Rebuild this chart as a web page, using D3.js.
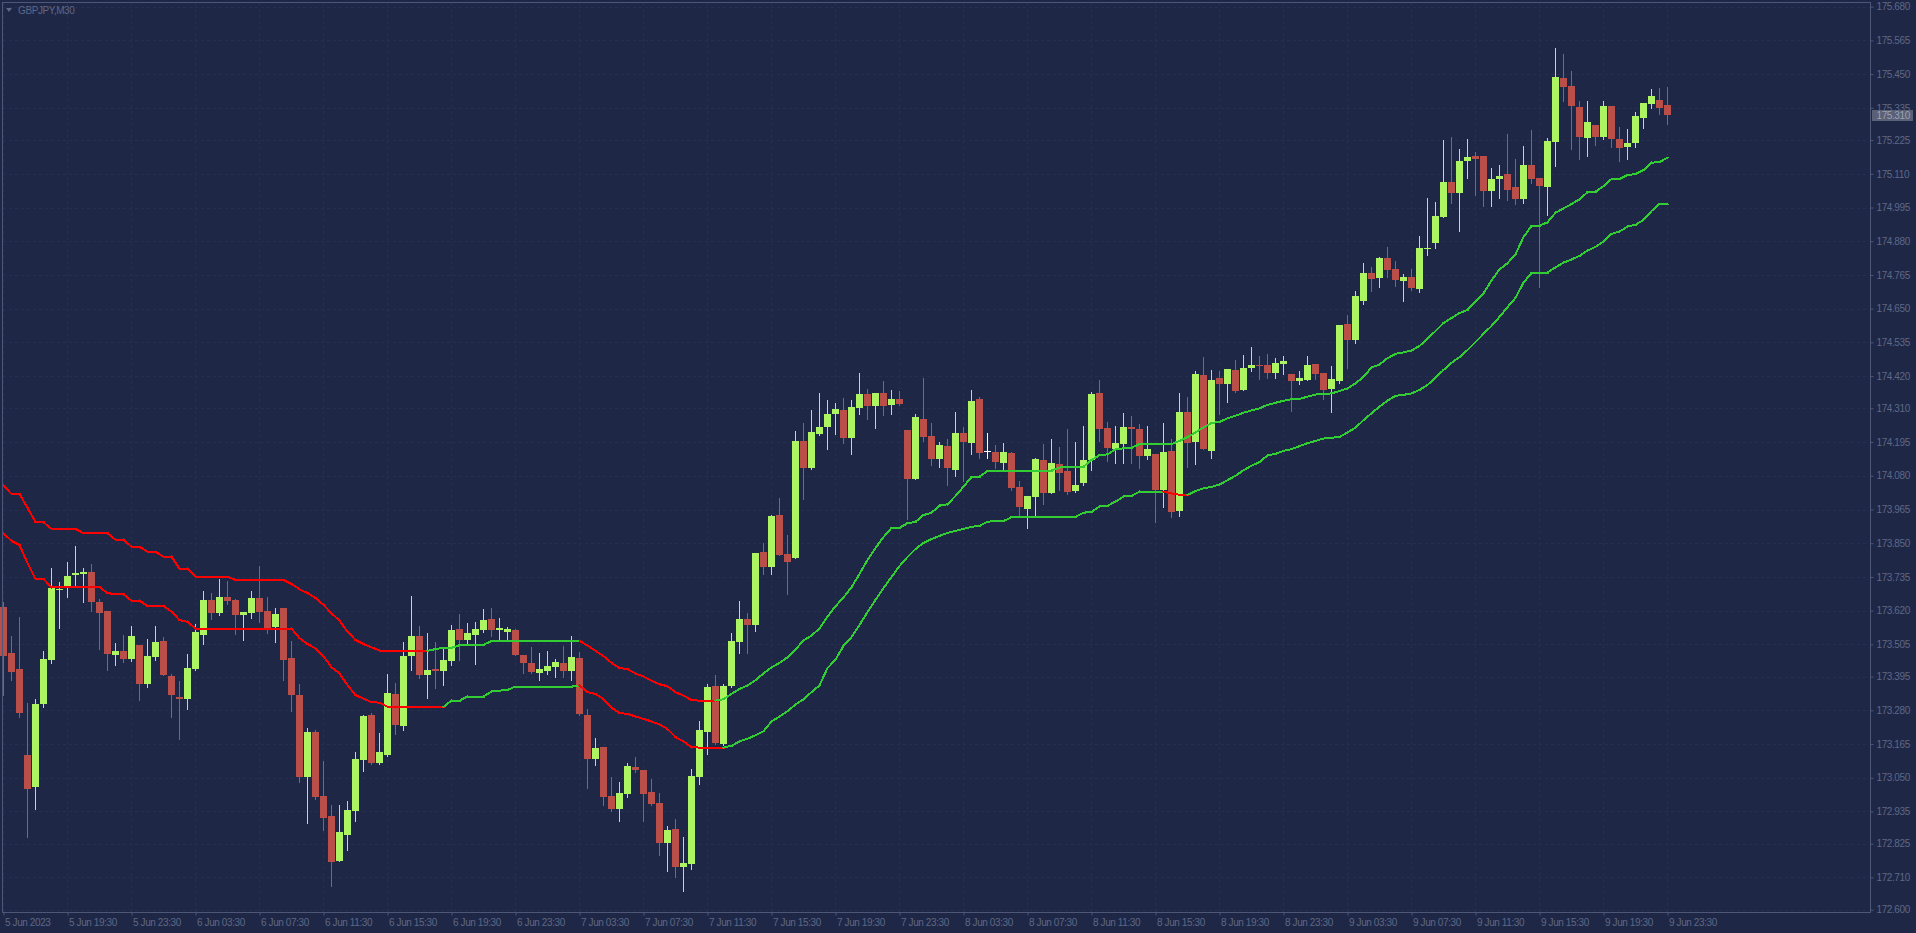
<!DOCTYPE html>
<html>
<head>
<meta charset="utf-8">
<script src="https://cdn.jsdelivr.net/npm/d3@7"></script>
<style>
  body { margin: 0; background: #1e2745; overflow: hidden; }
  svg text { font-family: "Liberation Sans", Arial, sans-serif; font-size: 10px; letter-spacing: -0.4px; }
</style>
</head>
<body>
<div id="chart"></div>
<script>
// GBPJPY M30, 5 Jun 15:30 .. 9 Jun 23:30 (209 bars)
var symbol = "GBPJPY,M30";
var lastPrice = 175.310;

var timeLabels = ["5 Jun 2023", "5 Jun 19:30", "5 Jun 23:30",
  "6 Jun 03:30", "6 Jun 07:30", "6 Jun 11:30", "6 Jun 15:30", "6 Jun 19:30", "6 Jun 23:30",
  "7 Jun 03:30", "7 Jun 07:30", "7 Jun 11:30", "7 Jun 15:30", "7 Jun 19:30", "7 Jun 23:30",
  "8 Jun 03:30", "8 Jun 07:30", "8 Jun 11:30", "8 Jun 15:30", "8 Jun 19:30", "8 Jun 23:30",
  "9 Jun 03:30", "9 Jun 07:30", "9 Jun 11:30", "9 Jun 15:30", "9 Jun 19:30", "9 Jun 23:30"];

var priceTicks = [175.680, 175.565, 175.450, 175.335, 175.225, 175.110, 174.995, 174.880,
  174.765, 174.650, 174.535, 174.420, 174.310, 174.195, 174.080, 173.965, 173.850, 173.735,
  173.620, 173.505, 173.395, 173.280, 173.165, 173.050, 172.935, 172.825, 172.710, 172.600];

var open = [173.633,173.476,173.421,173.128,173.017,173.303,173.450,173.689,173.702,173.740,
173.746,173.752,173.650,173.619,173.469,173.483,173.456,173.503,173.371,173.463,
173.517,173.398,173.326,173.320,173.422,173.538,173.657,173.613,173.667,173.657,
173.606,173.613,173.664,173.619,173.564,173.630,173.459,173.333,173.053,173.206,
172.989,172.921,172.767,172.855,172.938,173.111,173.264,173.101,173.128,173.336,
173.227,173.466,173.534,173.401,173.421,173.415,173.449,173.557,173.520,173.537,
173.554,173.591,173.554,173.547,173.554,173.469,173.442,173.408,173.415,173.428,
173.442,173.415,173.459,173.264,173.114,173.155,172.989,172.944,172.996,173.087,
173.077,173.003,172.965,172.828,172.875,172.744,172.757,173.053,173.206,173.363,
173.165,173.363,173.513,173.591,173.572,173.820,173.769,173.946,173.814,173.800,
174.199,174.106,174.222,174.246,174.290,174.305,174.210,174.312,174.359,174.318,
174.362,174.322,174.342,174.236,174.070,174.274,174.216,174.138,174.182,174.101,
174.226,174.193,174.342,174.164,174.161,174.125,174.158,174.042,173.968,174.009,
174.134,174.022,174.120,174.096,174.029,174.056,174.135,174.362,174.243,174.172,
174.190,174.246,174.240,174.149,174.154,174.032,174.164,173.961,174.298,174.196,
174.424,174.165,174.414,174.394,174.441,174.374,174.449,174.458,174.458,174.432,
174.462,174.427,174.404,174.408,174.461,174.431,174.377,174.404,174.598,174.544,
174.677,174.772,174.756,174.823,174.785,174.745,174.758,174.718,174.855,174.875,
174.964,175.082,175.046,175.155,175.172,175.172,175.052,175.093,175.109,175.065,
175.025,175.140,175.096,175.066,175.220,175.437,175.410,175.338,175.233,175.276,
175.237,175.341,175.229,175.202,175.216,175.301,175.349,175.362,175.345];

var high = [173.651,173.534,173.598,173.306,173.319,173.483,173.766,173.718,173.786,173.841,
173.766,173.779,173.660,173.619,173.510,173.537,173.568,173.503,173.523,173.568,
173.530,173.404,173.381,173.472,173.574,173.688,173.681,173.728,173.722,173.660,
173.615,173.688,173.773,173.667,173.630,173.630,173.517,173.370,173.220,173.213,
173.108,172.958,172.958,172.972,173.138,173.264,173.271,173.203,173.404,173.374,
173.513,173.671,173.568,173.544,173.513,173.496,173.571,173.608,173.578,173.581,
173.626,173.630,173.595,173.564,173.557,173.469,173.496,173.476,173.483,173.455,
173.500,173.535,173.479,173.286,173.185,173.155,173.053,173.037,173.099,173.121,
173.077,173.046,172.999,172.885,172.911,172.848,173.080,173.244,173.370,173.400,
173.370,173.543,173.654,173.611,173.818,173.851,173.946,174.004,173.878,174.233,
174.260,174.305,174.361,174.339,174.328,174.346,174.339,174.431,174.376,174.362,
174.403,174.373,174.369,174.236,174.291,174.414,174.260,174.195,174.206,174.298,
174.247,174.373,174.349,174.226,174.185,174.192,174.161,174.063,174.011,174.141,
174.188,174.206,174.178,174.240,174.195,174.250,174.366,174.407,174.263,174.250,
174.294,174.284,174.257,174.250,174.154,174.260,174.206,174.362,174.349,174.437,
174.485,174.441,174.437,174.444,174.475,174.492,174.519,174.489,174.495,174.482,
174.489,174.427,174.437,174.489,174.461,174.431,174.455,174.594,174.628,174.710,
174.806,174.792,174.826,174.860,174.813,174.768,174.786,174.898,175.028,175.014,
175.225,175.236,175.195,175.229,175.184,175.172,175.130,175.140,175.246,175.161,
175.205,175.259,175.096,175.233,175.539,175.519,175.461,175.359,175.358,175.276,
175.358,175.341,175.270,175.263,175.321,175.352,175.399,175.403,175.406];

var low = [173.331,173.385,173.258,172.849,172.945,173.290,173.443,173.562,173.665,173.702,
173.648,173.620,173.490,173.416,173.433,173.446,173.448,173.314,173.358,173.453,
173.399,173.258,173.183,173.286,173.416,173.507,173.591,173.606,173.644,173.541,
173.521,173.596,173.582,173.545,173.514,173.382,173.279,173.036,172.896,172.978,
172.872,172.682,172.767,172.804,172.903,173.074,173.097,173.097,173.124,173.199,
173.213,173.418,173.391,173.323,173.357,173.367,173.435,173.452,173.503,173.438,
173.547,173.534,173.523,173.520,173.469,173.408,173.408,173.384,173.404,173.394,
173.394,173.383,173.265,173.016,173.095,172.958,172.935,172.902,172.985,173.071,
172.902,172.956,172.788,172.733,172.712,172.664,172.739,173.030,173.132,173.165,
173.162,173.359,173.476,173.476,173.551,173.746,173.746,173.810,173.678,173.800,
174.001,174.103,174.219,174.172,174.222,174.192,174.154,174.292,174.274,174.244,
174.288,174.292,174.322,173.933,174.070,174.200,174.118,174.110,174.049,174.080,
174.063,174.155,174.141,174.141,174.108,174.104,174.033,173.941,173.903,173.941,
173.985,174.022,174.033,174.019,174.026,174.050,174.101,174.200,174.131,174.124,
174.124,174.124,174.107,174.138,173.923,173.975,173.941,173.944,174.111,174.121,
174.172,174.141,174.292,174.333,174.367,174.374,174.438,174.411,174.414,174.414,
174.428,174.302,174.394,174.408,174.411,174.343,174.299,174.398,174.449,174.534,
174.667,174.711,174.725,174.759,174.728,174.677,174.713,174.708,174.834,174.858,
174.964,175.011,174.916,175.097,175.039,175.001,174.999,175.029,175.022,175.008,
175.011,175.080,174.725,174.971,175.138,175.359,175.196,175.162,175.172,175.209,
175.230,175.202,175.155,175.162,175.202,175.267,175.336,175.315,175.281];

var close = [173.467,173.412,173.272,173.010,173.303,173.455,173.697,173.695,173.739,173.749,
173.753,173.648,173.613,173.473,173.483,173.455,173.534,173.371,173.466,173.513,
173.399,173.334,173.320,173.425,173.547,173.657,173.613,173.667,173.654,173.606,
173.615,173.664,173.616,173.560,173.608,173.453,173.333,173.053,173.206,172.985,
172.914,172.763,172.865,172.941,173.114,173.261,173.101,173.138,173.340,173.230,
173.466,173.534,173.401,173.418,173.415,173.452,173.554,173.520,173.544,173.557,
173.588,173.554,173.561,173.557,173.469,173.442,173.411,173.421,173.432,173.445,
173.415,173.463,173.269,173.114,173.151,172.985,172.944,172.999,173.091,173.077,
172.996,172.962,172.828,172.872,172.746,172.759,173.056,173.214,173.359,173.169,
173.363,173.517,173.591,173.572,173.818,173.769,173.943,173.810,173.786,174.199,
174.107,174.229,174.246,174.290,174.308,174.210,174.315,174.359,174.318,174.362,
174.318,174.342,174.326,174.070,174.281,174.214,174.138,174.185,174.108,174.226,
174.196,174.335,174.158,174.164,174.127,174.161,174.040,173.972,174.011,174.137,
174.022,174.124,174.091,174.026,174.049,174.134,174.359,174.241,174.176,174.192,
174.246,174.240,174.149,174.171,174.032,174.161,173.955,174.298,174.193,174.427,
174.172,174.407,174.394,174.444,174.370,174.448,174.458,174.455,174.432,174.465,
174.472,174.404,174.414,174.458,174.428,174.374,174.410,174.594,174.544,174.693,
174.772,174.752,174.823,174.783,174.749,174.758,174.722,174.857,174.857,174.966,
175.082,175.046,175.154,175.167,175.162,175.052,175.092,175.102,175.056,175.025,
175.140,175.093,175.069,175.222,175.440,175.407,175.342,175.237,175.287,175.237,
175.341,175.230,175.199,175.215,175.307,175.352,175.375,175.336,175.310];

// indicator: two bands, coloured by slope
var upperBand = [174.046,174.018,174.018,173.971,173.923,173.921,173.899,173.899,173.899,173.899,
173.884,173.884,173.884,173.884,173.862,173.862,173.838,173.838,173.821,173.821,
173.804,173.804,173.763,173.763,173.736,173.736,173.736,173.736,173.736,173.725,
173.725,173.725,173.725,173.725,173.725,173.725,173.711,173.693,173.680,173.663,
173.640,173.611,173.586,173.548,173.520,173.506,173.495,173.484,173.483,173.483,
173.483,173.483,173.483,173.483,173.489,173.493,173.493,173.502,173.504,173.504,
173.504,173.516,173.517,173.517,173.517,173.517,173.517,173.517,173.517,173.517,
173.517,173.517,173.517,173.501,173.483,173.465,173.442,173.424,173.421,173.406,
173.395,173.381,173.369,173.362,173.342,173.330,173.315,173.313,173.313,173.313,
173.318,173.336,173.353,173.365,173.383,173.406,173.426,173.442,173.461,173.488,
173.518,173.535,173.559,173.600,173.635,173.665,173.700,173.745,173.793,173.834,
173.871,173.902,173.903,173.918,173.923,173.946,173.954,173.978,173.983,174.011,
174.043,174.076,174.077,174.096,174.098,174.098,174.098,174.098,174.098,174.098,
174.098,174.098,174.108,174.111,174.111,174.111,174.134,174.150,174.153,174.170,
174.174,174.176,174.188,174.188,174.188,174.188,174.188,174.199,174.212,174.228,
174.245,174.260,174.264,174.276,174.285,174.295,174.303,174.310,174.322,174.329,
174.336,174.341,174.342,174.350,174.357,174.359,174.361,174.369,174.378,174.395,
174.418,174.449,174.460,174.481,174.496,174.501,174.507,174.523,174.547,174.574,
174.601,174.618,174.635,174.646,174.674,174.703,174.746,174.784,174.805,174.836,
174.894,174.932,174.933,174.945,174.977,174.992,175.007,175.023,175.047,175.049,
175.068,175.092,175.092,175.106,175.109,175.123,175.148,175.150,175.165];

var lowerBand = [173.884,173.858,173.844,173.782,173.728,173.728,173.700,173.700,173.700,173.700,
173.700,173.700,173.700,173.680,173.676,173.676,173.654,173.654,173.636,173.636,
173.636,173.617,173.588,173.582,173.559,173.559,173.559,173.559,173.559,173.559,
173.559,173.559,173.559,173.559,173.559,173.559,173.559,173.526,173.506,173.492,
173.465,173.427,173.406,173.366,173.332,173.320,173.308,173.306,173.292,173.292,
173.292,173.292,173.292,173.292,173.292,173.292,173.313,173.313,173.327,173.327,
173.327,173.344,173.347,173.350,173.361,173.361,173.361,173.361,173.361,173.361,
173.361,173.361,173.365,173.342,173.336,173.318,173.289,173.271,173.268,173.259,
173.251,173.242,173.232,173.216,173.189,173.174,173.154,173.153,173.153,173.153,
173.153,173.159,173.174,173.183,173.195,173.209,173.242,173.259,173.277,173.300,
173.318,173.342,173.365,173.424,173.453,173.500,173.530,173.571,173.615,173.657,
173.697,173.735,173.772,173.803,173.830,173.851,173.864,173.875,173.885,173.892,
173.899,173.906,173.909,173.923,173.926,173.926,173.938,173.940,173.940,173.940,
173.940,173.940,173.940,173.940,173.940,173.954,173.957,173.975,173.978,173.992,
174.009,174.012,174.026,174.026,174.026,174.026,174.020,174.015,174.015,174.028,
174.037,174.042,174.050,174.065,174.080,174.099,174.114,174.127,174.149,174.155,
174.165,174.171,174.181,174.191,174.199,174.207,174.210,174.212,174.228,174.244,
174.270,174.293,174.316,174.336,174.353,174.356,174.361,174.373,174.390,174.414,
174.441,174.465,174.485,174.509,174.536,174.564,174.591,174.622,174.655,174.687,
174.739,174.771,174.773,174.773,174.791,174.807,174.818,174.830,174.848,174.861,
174.879,174.905,174.913,174.930,174.936,174.953,174.983,175.007,175.008];

var width = 1916, height = 933;
var frame = {left: 2.5, top: 2.5, right: 1870.5, bottom: 912.5};

var bg = "#1e2745", axisCol = "#4e5777", textCol = "#5f6888", gridCol = "#262f51";
var upCol = "#adf463", downCol = "#b94f48", dojiCol = "#ffffff";
var bandUp = "#32cd32", bandDown = "#ff0000";

var bars = d3.range(open.length).map(function(i){
  return {i: i, o: open[i], h: high[i], l: low[i], c: close[i]};
});

var x = d3.scaleLinear().domain([0, bars.length - 1]).range([3.5, 3.5 + 8 * (bars.length - 1)]);
var y = d3.scaleLinear().domain([172.600, 175.680]).range([909.7, 6.7]);

var svg = d3.select("#chart").append("svg")
  .attr("width", width)
  .attr("height", height)
  .style("display", "block");

svg.append("rect").attr("width", width).attr("height", height).attr("fill", bg);

// grid
var grid = svg.append("g").attr("stroke", gridCol).attr("stroke-dasharray", "3,3").attr("shape-rendering", "crispEdges");
grid.selectAll(".hg").data(priceTicks).enter().append("line")
  .attr("x1", frame.left).attr("x2", frame.right)
  .attr("y1", function(d){ return Math.round(y(d)) + 0.5; })
  .attr("y2", function(d){ return Math.round(y(d)) + 0.5; });
grid.selectAll(".vg").data(d3.range(0, bars.length, 8)).enter().append("line")
  .attr("y1", frame.top).attr("y2", frame.bottom)
  .attr("x1", function(d){ return x(d); })
  .attr("x2", function(d){ return x(d); });

// candles
function barColor(d){
  if (d.c > d.o) return upCol;
  if (d.c < d.o) return downCol;
  return dojiCol;
}

var candles = svg.append("g").attr("shape-rendering", "crispEdges");
var bar = candles.selectAll("g").data(bars).enter().append("g");

bar.append("line")
  .attr("x1", function(d){ return x(d.i); })
  .attr("x2", function(d){ return x(d.i); })
  .attr("y1", function(d){ return Math.round(y(d.h)); })
  .attr("y2", function(d){ return Math.round(y(d.l)) + 1; })
  .attr("stroke", barColor)
  .attr("stroke-width", 1);

bar.append("rect")
  .attr("x", function(d){ return x(d.i) - 3.5; })
  .attr("width", 7)
  .attr("y", function(d){ return Math.round(y(Math.max(d.o, d.c))); })
  .attr("height", function(d){
    return Math.max(1, Math.round(y(Math.min(d.o, d.c))) - Math.round(y(Math.max(d.o, d.c))));
  })
  .attr("fill", barColor);

// bands: every segment takes the colour of its slope, flat keeps the last one
function drawBand(values){
  var segs = [], col = bandDown;
  d3.pairs(d3.range(values.length)).forEach(function(p){
    var a = values[p[0]], b = values[p[1]];
    if (b > a) col = bandUp;
    else if (b < a) col = bandDown;
    segs.push({i0: p[0], i1: p[1], v0: a, v1: b, col: col});
  });
  svg.append("g").attr("shape-rendering", "crispEdges")
    .selectAll("line").data(segs).enter().append("line")
    .attr("x1", function(d){ return x(d.i0); })
    .attr("x2", function(d){ return x(d.i1); })
    .attr("y1", function(d){ return y(d.v0); })
    .attr("y2", function(d){ return y(d.v1); })
    .attr("stroke", function(d){ return d.col; })
    .attr("stroke-width", 2)
    .attr("stroke-linecap", "square");
}
drawBand(upperBand);
drawBand(lowerBand);

// frame
svg.append("rect")
  .attr("x", frame.left).attr("y", frame.top)
  .attr("width", frame.right - frame.left).attr("height", frame.bottom - frame.top)
  .attr("fill", "none").attr("stroke", axisCol).attr("shape-rendering", "crispEdges");

// price axis
var yAxis = d3.axisRight(y).tickValues(priceTicks).tickFormat(d3.format(".3f"))
  .tickSize(3).tickPadding(3).tickSizeOuter(0);
svg.append("g")
  .attr("transform", "translate(" + frame.right + ",0)")
  .call(yAxis)
  .call(function(g){
    g.attr("font-family", null).attr("font-size", null);
    g.select(".domain").remove();
    g.selectAll("line").attr("stroke", axisCol);
    g.selectAll("text").attr("fill", textCol);
  });

// current price marker (covers part of the 175.335 label, as in the terminal)
svg.append("rect")
  .attr("x", frame.right + 1.5).attr("y", Math.round(y(lastPrice)) - 5)
  .attr("width", 41).attr("height", 11)
  .attr("fill", "#5a6075");
svg.append("text")
  .attr("x", frame.right + 6).attr("y", y(lastPrice)).attr("dy", "0.34em")
  .attr("fill", "#9ca2b6")
  .text(d3.format(".3f")(lastPrice));

// time axis
var xAxis = d3.axisBottom(x).tickValues(d3.range(0, bars.length, 8))
  .tickFormat(function(d, k){ return timeLabels[k]; })
  .tickSize(3).tickPadding(3).tickSizeOuter(0);
svg.append("g")
  .attr("transform", "translate(0," + frame.bottom + ")")
  .call(xAxis)
  .call(function(g){
    g.attr("font-family", null).attr("font-size", null);
    g.select(".domain").remove();
    g.selectAll("line").attr("stroke", axisCol);
    g.selectAll("text").attr("fill", textCol).attr("text-anchor", "start").attr("x", 1);
  });

// symbol title
svg.append("path").attr("d", "M6,8 L12,8 L9,12 Z").attr("fill", textCol);
svg.append("text").attr("x", 18).attr("y", 13.5).attr("fill", textCol).text(symbol);
</script>
</body>
</html>
